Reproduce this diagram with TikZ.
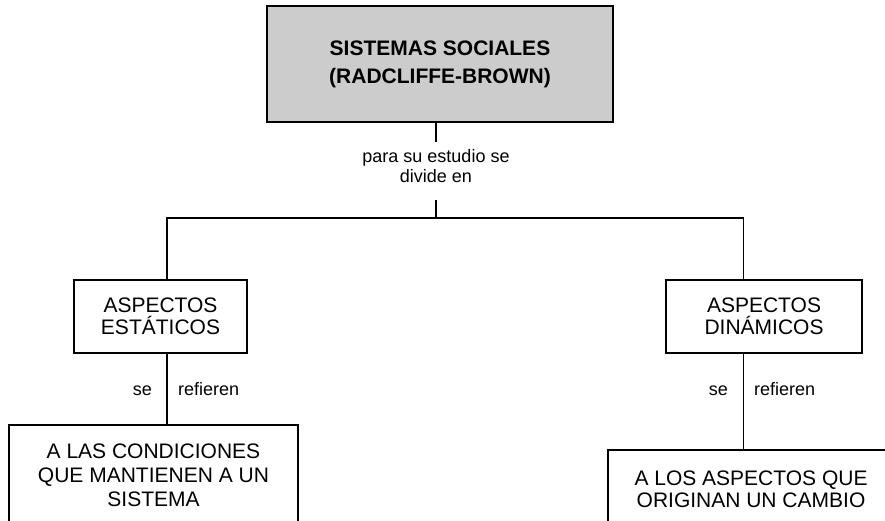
\documentclass[tikz,border=0pt]{standalone}
\usepackage{fontspec}
\setmainfont{Liberation Sans}
\begin{document}
\begin{tikzpicture}[x=1pt,y=-1pt,
  box/.style={draw=black, line width=2.2pt, inner sep=0pt, align=center,
    font=\fontsize{21}{22}\selectfont},
  conn/.style={line width=1.5pt},
  lbl/.style={inner sep=0pt, font=\fontsize{18}{20.5}\selectfont}]
\useasboundingbox (0,0) rectangle (885,520);
\clip (0,0) rectangle (885,520);
% boxes
\node[box, fill=black!20, minimum width=346pt, minimum height=116pt,
  font=\fontsize{21}{28}\selectfont\bfseries] (sys) at (440,64)
  {SISTEMAS SOCIALES\\(RADCLIFFE-BROWN)};
\node[box, minimum width=173pt, minimum height=73pt] (est) at (160.5,316.5)
  {ASPECTOS\\ESTÁTICOS};
\node[box, minimum width=196pt, minimum height=73pt] (din) at (764,316.5)
  {ASPECTOS\\DINÁMICOS};
\node[box, minimum width=289pt, minimum height=100pt,
  font=\fontsize{21}{24}\selectfont] (cond) at (153.5,475)
  {A LAS CONDICIONES\\QUE MANTIENEN A UN\\SISTEMA};
\node[box, minimum width=286pt, minimum height=78pt] (orig) at (751,489)
  {A LOS ASPECTOS QUE\\ORIGINAN UN CAMBIO};
% labels
\node[lbl, align=center] (mid) at (436,166) {para su estudio se\\divide en};
\node[lbl, anchor=base east] (se1) at (152,395) {se};
\node[lbl, anchor=base west] (re1) at (178,395) {refieren};
\node[lbl, anchor=base east] (se2) at (728,395) {se};
\node[lbl, anchor=base west] (re2) at (754,395) {refieren};
% coordinates
\coordinate (m1) at (436,142);
\coordinate (m2) at (436,200);
\coordinate (bl) at (167,218);
\coordinate (br) at (743.5,218);
% connectors
\draw[conn] (sys.south -| m1) -- (m1);
\draw[conn] (m2) -- (m2 |- bl);
\draw[conn] (est.north -| bl) -- (bl) -- (br) -- (din.north -| br);
\draw[conn] (est.south -| bl) -- (cond.north -| bl);
\draw[conn] (din.south -| br) -- (orig.north -| br);
\end{tikzpicture}
\end{document}
